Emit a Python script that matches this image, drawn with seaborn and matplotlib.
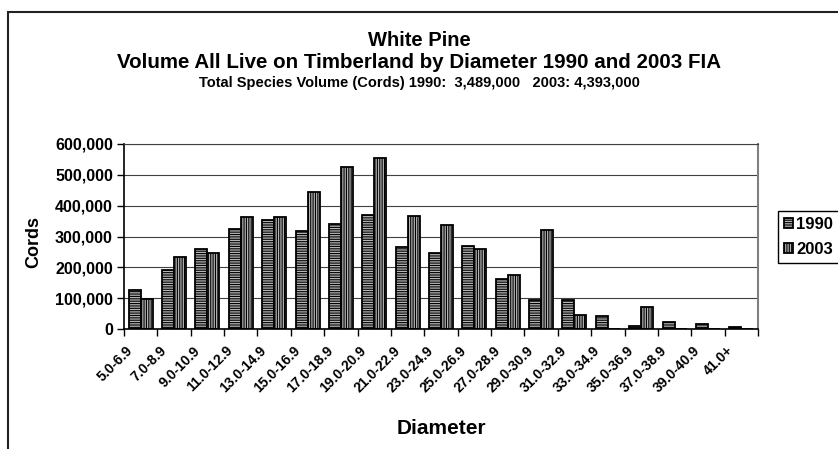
import pandas as pd
import seaborn as sns
import matplotlib.pyplot as plt
from matplotlib.patches import Rectangle
from matplotlib.ticker import FuncFormatter, FixedLocator
from matplotlib.transforms import ScaledTranslation

# 数据（考得）
diameters = ['5.0-6.9', '7.0-8.9', '9.0-10.9', '11.0-12.9', '13.0-14.9', '15.0-16.9',
             '17.0-18.9', '19.0-20.9', '21.0-22.9', '23.0-24.9', '25.0-26.9', '27.0-28.9',
             '29.0-30.9', '31.0-32.9', '33.0-34.9', '35.0-36.9', '37.0-38.9', '39.0-40.9',
             '41.0+']
cords_1990 = [126000, 191000, 259000, 324000, 355000, 318000, 339000, 369000, 265000,
              246000, 268000, 161000, 93000, 95000, 42000, 10000, 22000, 16000, 7000]
cords_2003 = [98000, 232000, 246000, 363000, 362000, 444000, 526000, 553000, 368000,
              336000, 259000, 174000, 322000, 45000, 0, 72000, 0, 0, 0]
years = ['1990', '2003']

df = pd.DataFrame({
    'Diameter': diameters * 2,
    'Year': [years[0]] * len(diameters) + [years[1]] * len(diameters),
    'Cords': cords_1990 + cords_2003,
})

sns.set_style('white')
plt.rcParams['font.family'] = ['Liberation Sans', 'DejaVu Sans']
plt.rcParams['font.weight'] = 'bold'
plt.rcParams['hatch.linewidth'] = 0.8
for k in ['text.color', 'axes.labelcolor', 'xtick.color', 'ytick.color']:
    plt.rcParams[k] = 'black'

fig = plt.figure(figsize=(8.38, 4.49), dpi=100)
ax = fig.add_axes([124 / 838, 1 - 329 / 449, (758 - 124) / 838, (329 - 144) / 449])

sns.barplot(data=df, x='Diameter', y='Cords', hue='Year', order=diameters,
            palette=['#b4b4b4', '#b4b4b4'], edgecolor='black', linewidth=1.3,
            width=0.72, saturation=1, legend=False, ax=ax)

# 条纹填充
for cont, h in zip(ax.containers, ['-------', '|||||||']):
    for p in cont:
        p.set_hatch(h)

ax.set_ylim(0, 600000)
ax.set_xlim(-0.5, len(diameters) - 0.5)
ax.set_yticks(range(0, 600001, 100000))
ax.yaxis.set_major_formatter(FuncFormatter(lambda v, _: f'{int(v):,}'))
ax.grid(axis='y', color='#404040', linewidth=0.8)
ax.set_axisbelow(True)

# 类别轴刻度放在边界处
ax.xaxis.set_minor_locator(FixedLocator([i - 0.5 for i in range(len(diameters) + 1)]))
ax.tick_params(axis='x', which='major', length=0, pad=14, labelsize=10)
ax.tick_params(axis='x', which='minor', length=5, width=1, color='black', bottom=True)
ax.tick_params(axis='y', length=5, width=1, color='black', left=True, labelsize=11.5, pad=3)
shift = ScaledTranslation(-10 / 100, 0, fig.dpi_scale_trans)
for lab in ax.get_xticklabels():
    lab.set_rotation(45)
    lab.set_ha('right')
    lab.set_va('center')
    lab.set_rotation_mode('anchor')
    lab.set_fontweight('bold')
    lab.set_transform(lab.get_transform() + shift)
for lab in ax.get_yticklabels():
    lab.set_fontweight('bold')

for s in ['left', 'bottom']:
    ax.spines[s].set_color('black')
    ax.spines[s].set_linewidth(1.2)
ax.spines['right'].set_color('#808080')
ax.spines['right'].set_linewidth(1.5)
ax.spines['top'].set_color('#404040')
ax.spines['top'].set_linewidth(0.8)

ax.set_xlabel('Diameter', fontsize=15, fontweight='bold')
ax.xaxis.label.set_va('center')
ax.xaxis.set_label_coords(0.5, (329 - 429) / 185)
ax.set_ylabel('Cords', fontsize=13, fontweight='bold')
ax.yaxis.label.set_va('center')
ax.yaxis.set_label_coords((34 - 124) / 634, (329 - 242) / 185)

fig.text(0.5, 1 - 40 / 449, 'White Pine', ha='center', va='center', fontsize=14.5, fontweight='bold')
fig.text(0.5, 1 - 63 / 449, 'Volume All Live on Timberland by Diameter 1990 and 2003 FIA',
         ha='center', va='center', fontsize=14.8, fontweight='bold')
fig.text(0.5, 1 - 83 / 449, 'Total Species Volume (Cords) 1990:  3,489,000   2003: 4,393,000',
         ha='center', va='center', fontsize=10.5, fontweight='bold')

leg = ax.legend(ax.containers, years, loc='upper left',
                bbox_to_anchor=(778 / 838, 1 - 211 / 449), bbox_transform=fig.transFigure,
                frameon=True, fancybox=False, edgecolor='black', framealpha=1,
                handlelength=0.55, handleheight=0.55, handletextpad=0.2,
                borderpad=0.35, labelspacing=0.6, borderaxespad=0,
                prop={'weight': 'bold', 'size': 12})
leg.get_frame().set_linewidth(1)

# 图表外框
fig.patches.append(Rectangle((7.5 / 838, -0.2), 1.2, 1.2 - 12 / 449,
                             transform=fig.transFigure, fill=False,
                             edgecolor='#222222', linewidth=1.5))

fig.savefig('out.png', dpi=100)
